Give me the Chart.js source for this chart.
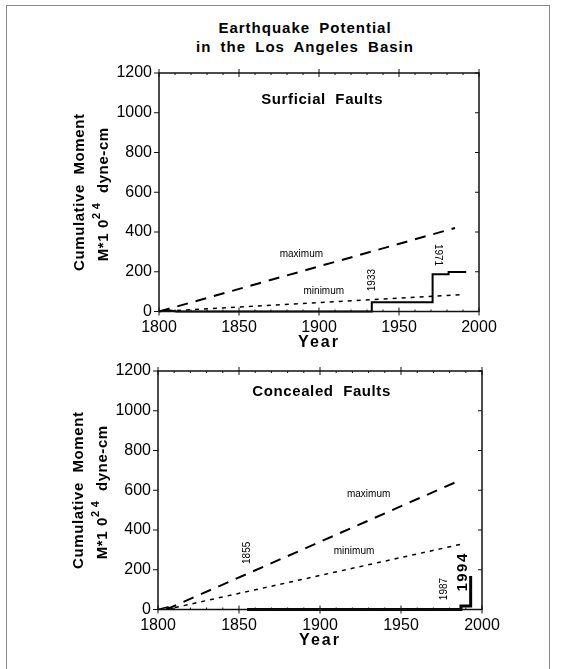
<!DOCTYPE html>
<html>
<head>
<meta charset="utf-8">
<script src="https://cdn.jsdelivr.net/npm/chart.js@4.4.1/dist/chart.umd.min.js"></script>
<style>
body{margin:0;background:#fff;}
#page{position:relative;width:561px;height:669px;overflow:hidden;font-family:"Liberation Sans",Arial,sans-serif;}
#frame{position:absolute;left:6px;top:5px;width:542px;height:700px;border:1px solid #888;}
.ttl{position:absolute;left:155px;width:300px;text-align:center;font-weight:bold;font-size:15px;letter-spacing:1px;word-spacing:4px;line-height:19px;}
.box{position:absolute;left:0;width:561px;}
</style>
</head>
<body>
<div id="page">
  <div id="frame"></div>
  <div class="ttl" style="top:18px">Earthquake Potential</div>
  <div class="ttl" style="top:37px">in the Los Angeles Basin</div>
  <div class="box" style="top:0;height:350px"><canvas id="topChart"></canvas></div>
  <div class="box" style="top:350px;height:319px"><canvas id="bottomChart"></canvas></div>
</div>
<script>
// tick labels
var yearTicks = [1800, 1850, 1900, 1950, 2000];
var momentTicks = [0, 200, 400, 600, 800, 1000, 1200];

// Surficial faults
var surfMaxYears = [1800, 1985];
var surfMaxValues = [0, 420];
var surfMinYears = [1800, 1990];
var surfMinValues = [0, 85];
var surfObsYears = [1800, 1805, 1811, 1933, 1933, 1971, 1971, 1981, 1981, 1992];
var surfObsValues = [0, 7, 0, 0, 46, 46, 187, 187, 199, 199];

// Concealed faults
var concMaxYears = [1805, 1985];
var concMaxValues = [0, 645];
var concMinYears = [1805, 1988];
var concMinValues = [0, 330];
var concBumpYears = [1800, 1806, 1810];
var concBumpValues = [0, 12, 0];
var concObsYears = [1855, 1987, 1987, 1993, 1993];
var concObsValues = [0, 0, 17, 17, 168];

function pts(xs, ys){
    return xs.map(function(v, i){ return {x: v, y: ys[i]}; });
}

function line(ctx, x1, y1, x2, y2){
    ctx.beginPath();
    ctx.moveTo(x1, y1);
    ctx.lineTo(x2, y2);
    ctx.stroke();
}

// draws a run of text pieces along a (possibly rotated) baseline, centred
function drawPieces(ctx, cx, cy, angle, pieces){
    ctx.save();
    ctx.translate(cx, cy);
    ctx.rotate(angle);
    ctx.textBaseline = 'middle';
    ctx.textAlign = 'left';
    var total = 0;
    pieces.forEach(function(p){
        ctx.font = p.font;
        ctx.letterSpacing = (p.ls || 0) + 'px';
        p.w = ctx.measureText(p.text).width;
        total += p.w;
    });
    var x = -total / 2;
    pieces.forEach(function(p){
        ctx.font = p.font;
        ctx.letterSpacing = (p.ls || 0) + 'px';
        ctx.fillText(p.text, x, p.dy || 0);
        x += p.w;
    });
    ctx.restore();
}

var extras = {
    id: 'extras',
    afterDraw: function(chart, args, opts){
        var ctx = chart.ctx, a = chart.chartArea;
        var xs = chart.scales.x, ys = chart.scales.y;
        ctx.save();
        ctx.strokeStyle = '#111';
        ctx.fillStyle = '#111';
        ctx.lineWidth = 1.5;
        ctx.strokeRect(a.left, a.top, a.right - a.left, a.bottom - a.top);
        ctx.lineWidth = 1;
        // x ticks, majors from the tick list plus minors every 10 years
        for (var v = yearTicks[0]; v <= yearTicks[yearTicks.length - 1]; v += 10){
            var px = xs.getPixelForValue(v);
            var major = yearTicks.indexOf(v) >= 0;
            if (major){
                line(ctx, px, a.bottom - 4, px, a.bottom + 4);
                line(ctx, px, a.top - 4, px, a.top + 4);
            } else {
                line(ctx, px, a.bottom - 2, px, a.bottom);
                line(ctx, px, a.top, px, a.top + 2);
            }
        }
        momentTicks.forEach(function(m){
            var py = ys.getPixelForValue(m);
            line(ctx, a.left - 5, py, a.left, py);
            line(ctx, a.right - 4, py, a.right, py);
        });

        // axis titles
        ctx.fillStyle = '#000';
        drawPieces(ctx, a.left - 79, (a.top + a.bottom) / 2, -Math.PI / 2, [
            {text: 'Cumulative  Moment', font: 'bold 15px "Liberation Sans"', ls: 0.6}
        ]);
        drawPieces(ctx, a.left - 55, (a.top + a.bottom) / 2 + 2, -Math.PI / 2, [
            {text: 'M*1 0', font: 'bold 15px "Liberation Sans"', ls: 0.6},
            {text: '2 4', font: 'bold 11px "Liberation Sans"', ls: 0.4, dy: -7},
            {text: '  dyne-cm', font: 'bold 15px "Liberation Sans"', ls: 0.6}
        ]);
        drawPieces(ctx, (a.left + a.right) / 2, a.bottom + 31, 0, [
            {text: 'Year', font: 'bold 16px "Liberation Sans"', ls: 2}
        ]);

        // notes placed in data coordinates
        opts.notes.forEach(function(n){
            drawPieces(ctx, xs.getPixelForValue(n.x), ys.getPixelForValue(n.y), n.rot || 0, [
                {text: n.text, font: n.font, ls: n.ls || 0}
            ]);
        });
        ctx.restore();
    }
};

function plain(v){ return String(v); }

function makeChart(id, sets, notes, pad, leftW, bottomH){
    var ctx = document.getElementById(id).getContext('2d');
    return new Chart(ctx, {
        type: 'line',
        data: {datasets: sets},
        options: {
            responsive: true,
            maintainAspectRatio: false,
            animation: false,
            layout: {padding: pad},
            plugins: {
                legend: {display: false},
                tooltip: {enabled: false},
                extras: {notes: notes}
            },
            elements: {point: {radius: 0}, line: {tension: 0}},
            scales: {
                x: {
                    type: 'linear', min: 1800, max: 2000,
                    grid: {display: false, drawTicks: false},
                    border: {display: false},
                    afterBuildTicks: function(s){ s.ticks = yearTicks.map(function(v){ return {value: v}; }); },
                    afterFit: function(s){ s.height = bottomH; },
                    ticks: {color: '#000', padding: 6, maxRotation: 0, autoSkip: false, callback: plain,
                        font: {family: '"Liberation Sans"', size: 16}}
                },
                y: {
                    min: 0, max: 1200,
                    grid: {display: false, drawTicks: false},
                    border: {display: false},
                    afterBuildTicks: function(s){ s.ticks = momentTicks.map(function(v){ return {value: v}; }); },
                    afterFit: function(s){ s.width = leftW; },
                    ticks: {color: '#000', padding: 7, autoSkip: false, callback: plain,
                        font: {family: '"Liberation Sans"', size: 16}}
                }
            }
        },
        plugins: [extras]
    });
}

var small = '10px "Liberation Sans"';
var bold = 'bold 15px "Liberation Sans"';

makeChart('topChart', [
    {data: pts(surfMaxYears, surfMaxValues), borderColor: '#000', borderWidth: 2, borderDash: [11, 8]},
    {data: pts(surfMinYears, surfMinValues), borderColor: '#000', borderWidth: 1.5, borderDash: [4, 5]},
    {data: pts(surfObsYears, surfObsValues), borderColor: '#000', borderWidth: 2, clip: 4}
], [
    {text: 'Surficial  Faults', x: 1902, y: 1064, font: bold, ls: 0.6},
    {text: 'maximum', x: 1889, y: 289, font: small},
    {text: 'minimum', x: 1903, y: 103, font: small},
    {text: '1933', x: 1933, y: 158, font: small, rot: -Math.PI / 2},
    {text: '1971', x: 1974, y: 284, font: small, rot: Math.PI / 2}
], {top: 73, right: 82, left: 0, bottom: 0}, 159, 38.5);

makeChart('bottomChart', [
    {data: pts(concMaxYears, concMaxValues), borderColor: '#000', borderWidth: 2, borderDash: [11, 8]},
    {data: pts(concMinYears, concMinValues), borderColor: '#000', borderWidth: 1.5, borderDash: [4, 5]},
    {data: pts(concBumpYears, concBumpValues), borderColor: '#000', borderWidth: 1.5, clip: 4},
    {data: pts(concObsYears, concObsValues), borderColor: '#000', borderWidth: 3, clip: 4}
], [
    {text: 'Concealed  Faults', x: 1901, y: 1094, font: bold, ls: 0.6},
    {text: 'maximum', x: 1930, y: 581, font: small},
    {text: 'minimum', x: 1921, y: 294, font: small},
    {text: '1855', x: 1855, y: 285, font: small, rot: -Math.PI / 2},
    {text: '1987', x: 1977, y: 103, font: small, rot: -Math.PI / 2},
    {text: '1994', x: 1988, y: 189, font: 'bold 15px "Liberation Sans"', ls: 1.5, rot: -Math.PI / 2}
], {top: 21, right: 79, left: 0, bottom: 0}, 158, 59.5);
</script>
</body>
</html>
